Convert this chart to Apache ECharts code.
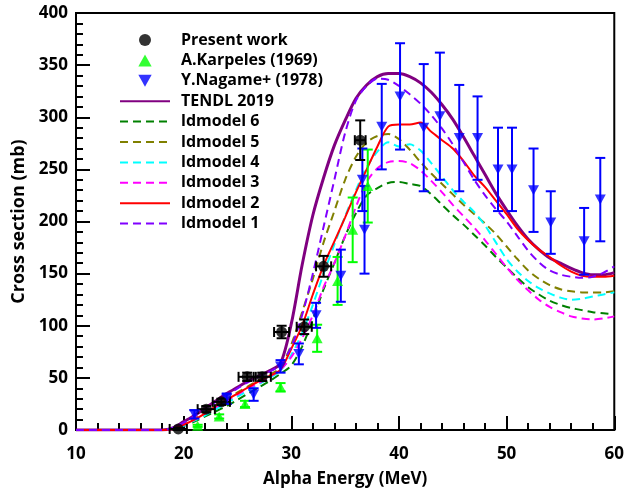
<!DOCTYPE html>
<html>
<head>
<meta charset="utf-8">
<script src="https://cdn.jsdelivr.net/npm/echarts@6/dist/echarts.min.js"></script>
<style>
  html, body { margin: 0; padding: 0; background: #fff; }
  #chart { width: 627px; height: 493px; }
</style>
</head>
<body>
<div id="chart"></div>
<script>
// experimental points
const presentE = [19.5, 22.1, 23.5, 25.9, 27.3, 29.1, 31.2, 33.0, 36.4];
const presentXS = [1, 20, 27, 51, 51, 94, 99, 157, 278];
const presentDE = [0.8, 0.8, 0.8, 0.8, 0.8, 0.7, 0.7, 0.7, 0.5];
const presentDXS = [1, 3, 3, 4, 4, 6, 7, 10, 19];

const karpE = [21.3, 23.3, 25.7, 29.0, 32.4, 34.3, 35.7, 37.1];
const karpXS = [4, 13, 25, 41, 88, 143, 192, 234];
const karpDXS = [1, 2, 3, 4, 13, 23, 31, 35];

const nagE = [21.0, 24.0, 26.5, 29.0, 30.7, 32.3, 34.6, 36.6, 36.8, 38.4, 40.1, 42.3, 43.8, 45.6, 47.3, 49.2, 50.5, 52.5, 54.1, 57.2, 58.7];
const nagXS = [15, 30, 34, 61, 73, 110, 148, 240, 192, 291, 320, 290, 301, 280, 280, 250, 250, 230, 199, 181, 221];
const nagDXS = [4, 5, 6, 6, 10, 12, 25, 30, 42, 41, 51, 61, 61, 51, 40, 40, 40, 40, 30, 32, 40];

// model curves (common energy grid)
const modelE = [10, 18, 19, 20, 21, 22, 23, 24, 25, 26, 27, 28, 29, 30, 31, 32, 33, 34, 35, 36, 37, 38, 39, 40,
  41, 42, 43, 44, 45, 46, 47, 48, 49, 50, 51, 52, 53, 54, 55, 56, 57, 58, 59, 60];
const tendl = [0, 0, 2, 8, 14, 21, 28, 35, 41, 47, 52, 57, 64, 102, 158, 206, 242, 273, 297, 318, 331, 339, 342, 342,
  339, 333, 324, 312, 298, 281, 263, 245, 227, 211, 196, 183, 173, 165, 160, 155, 151, 149, 149, 151];
const ld6 = [0, 0, 1, 4, 8, 13, 18, 23, 29, 35, 41, 47, 54, 62, 80, 106, 135, 160, 186, 208, 225, 232, 237, 238,
  236, 234, 226, 216, 206, 197, 187, 177, 166, 156, 146, 137, 130, 124, 120, 117, 115, 113, 112, 111];
const ld5 = [0, 0, 1, 6, 11, 17, 24, 30, 36, 42, 48, 53, 60, 82, 113, 145, 180, 210, 240, 262, 276, 282, 284, 279,
  269, 257, 246, 236, 226, 216, 207, 198, 188, 176, 164, 153, 145, 139, 135, 133, 132, 132, 132, 133];
const ld4 = [0, 0, 1, 4, 9, 14, 20, 26, 32, 38, 44, 50, 57, 72, 93, 120, 150, 178, 205, 230, 252, 267, 276, 272,
  274, 268, 256, 243, 230, 219, 209, 196, 180, 164, 152, 143, 136, 131, 127, 125, 126, 128, 130, 132];
const ld3 = [0, 0, 1, 5, 10, 16, 22, 28, 34, 40, 45, 51, 58, 70, 88, 110, 137, 160, 186, 214, 238, 251, 257, 258,
  256, 249, 239, 228, 216, 205, 194, 182, 169, 156, 144, 134, 125, 118, 113, 109, 107, 106, 107, 109];
const ld2 = [0, 0, 1, 5, 10, 16, 23, 29, 35, 41, 47, 52, 58, 78, 100, 130, 158, 181, 204, 228, 250, 272, 291, 293,
  293, 295, 286, 278, 270, 258, 244, 233, 220, 207, 193, 182, 173, 166, 158, 152, 148, 147, 147, 148];
const ld1 = [0, 0, 2, 7, 13, 20, 27, 33, 40, 46, 51, 56, 63, 80, 110, 150, 195, 240, 285, 316, 330, 337, 336, 330,
  322, 313, 302, 289, 274, 257, 240, 225, 212, 200, 186, 172, 161, 153, 149, 147, 146, 147, 151, 157];

const xTicks = [10, 20, 30, 40, 50, 60];
const yTicks = [0, 50, 100, 150, 200, 250, 300, 350, 400];

const font = 'Open Sans';
const upTri = 'path://M5,0 L10,9 L0,9 Z';
const downTri = 'path://M0,0 L10,0 L5,9 Z';

function pairs(xs, ys) {
  return xs.map((x, i) => [x, ys[i]]);
}

function errorBars(name, xs, ys, dxs, dys, color) {
  return {
    type: 'custom',
    name: name,
    silent: true,
    z: 4,
    renderItem: function (params, api) {
      const x = api.value(0), y = api.value(1), dx = api.value(2), dy = api.value(3);
      const lo = api.coord([x, y - dy]);
      const hi = api.coord([x, y + dy]);
      const style = { stroke: color, lineWidth: 2 };
      const cap = 5;
      const kids = [
        { type: 'line', shape: { x1: lo[0], y1: lo[1], x2: hi[0], y2: hi[1] }, style: style },
        { type: 'line', shape: { x1: lo[0] - cap, y1: lo[1], x2: lo[0] + cap, y2: lo[1] }, style: style },
        { type: 'line', shape: { x1: hi[0] - cap, y1: hi[1], x2: hi[0] + cap, y2: hi[1] }, style: style }
      ];
      if (dx > 0) {
        const l = api.coord([x - dx, y]);
        const r = api.coord([x + dx, y]);
        kids.push(
          { type: 'line', shape: { x1: l[0], y1: l[1], x2: r[0], y2: r[1] }, style: style },
          { type: 'line', shape: { x1: l[0], y1: l[1] - cap, x2: l[0], y2: l[1] + cap }, style: style },
          { type: 'line', shape: { x1: r[0], y1: r[1] - cap, x2: r[0], y2: r[1] + cap }, style: style }
        );
      }
      return { type: 'group', children: kids };
    },
    data: xs.map((x, i) => [x, ys[i], dxs ? dxs[i] : 0, dys[i]])
  };
}

function curve(name, ys, color, dashed, width) {
  return {
    type: 'line',
    name: name,
    data: pairs(modelE, ys),
    showSymbol: false,
    symbol: 'none',
    smooth: 0.3,
    z: 3,
    lineStyle: { color: color, width: width || 2, type: dashed ? [8, 5] : 'solid' },
    itemStyle: { color: color }
  };
}

// legend rows for the curves: line only, no marker
const noMark = { opacity: 0 };

const chart = echarts.init(document.getElementById('chart'));
chart.setOption({
  animation: false,
  backgroundColor: '#fff',
  grid: { left: 76, right: 10, top: 13, bottom: 62, show: true, borderColor: '#000', borderWidth: 2 },
  legend: {
    orient: 'vertical',
    left: 114,
    top: 27,
    itemWidth: 50,
    itemHeight: 12,
    itemGap: 4.4,
    textStyle: { fontFamily: font, fontWeight: 'bold', fontSize: 16, lineHeight: 12, color: '#000', padding: [0, 0, 0, 6] },
    data: [
      { name: 'Present work' },
      { name: 'A.Karpeles (1969)' },
      { name: 'Y.Nagame+ (1978)' },
      { name: 'TENDL 2019', itemStyle: noMark },
      { name: 'ldmodel 6', itemStyle: noMark },
      { name: 'ldmodel 5', itemStyle: noMark },
      { name: 'ldmodel 4', itemStyle: noMark },
      { name: 'ldmodel 3', itemStyle: noMark },
      { name: 'ldmodel 2', itemStyle: noMark },
      { name: 'ldmodel 1', itemStyle: noMark }
    ]
  },
  xAxis: {
    type: 'value',
    min: xTicks[0],
    max: xTicks[xTicks.length - 1],
    interval: 10,
    name: 'Alpha Energy (MeV)',
    nameLocation: 'middle',
    nameGap: 41,
    nameTextStyle: { fontFamily: font, fontWeight: 'bold', fontSize: 17, color: '#000' },
    axisLine: { lineStyle: { color: '#000', width: 2 } },
    axisTick: { inside: true, length: 14, lineStyle: { color: '#000', width: 2 } },
    minorTick: { show: true, splitNumber: 5, length: 7, lineStyle: { color: '#000', width: 2 } },
    axisLabel: { fontFamily: font, fontWeight: 'bold', fontSize: 17, color: '#000', margin: 16 },
    splitLine: { show: false }
  },
  yAxis: {
    type: 'value',
    min: yTicks[0],
    max: yTicks[yTicks.length - 1],
    interval: 50,
    name: 'Cross section (mb)',
    nameLocation: 'middle',
    nameGap: 46,
    nameTextStyle: { fontFamily: font, fontWeight: 'bold', fontSize: 18, color: '#000' },
    axisLine: { lineStyle: { color: '#000', width: 2 } },
    axisTick: { inside: true, length: 14, lineStyle: { color: '#000', width: 2 } },
    minorTick: { show: true, splitNumber: 5, length: 7, lineStyle: { color: '#000', width: 2 } },
    axisLabel: { fontFamily: font, fontWeight: 'bold', fontSize: 17, color: '#000', margin: 8 },
    splitLine: { show: false }
  },
  series: [
    curve('TENDL 2019', tendl, '#800080', false, 3),
    curve('ldmodel 6', ld6, '#008000', true),
    curve('ldmodel 5', ld5, '#808000', true),
    curve('ldmodel 4', ld4, '#00ffff', true),
    curve('ldmodel 3', ld3, '#ff00ff', true),
    curve('ldmodel 2', ld2, '#ff0000', false),
    curve('ldmodel 1', ld1, '#8000ff', true),
    errorBars('eb-karp', karpE, karpXS, null, karpDXS, '#00ff00'),
    errorBars('eb-nag', nagE, nagXS, null, nagDXS, '#0000ff'),
    errorBars('eb-present', presentE, presentXS, presentDE, presentDXS, '#000000'),
    {
      type: 'scatter', name: 'A.Karpeles (1969)', data: pairs(karpE, karpXS),
      symbol: upTri, symbolSize: [11, 10], itemStyle: { color: '#00ff00' }, z: 5
    },
    {
      type: 'scatter', name: 'Y.Nagame+ (1978)', data: pairs(nagE, nagXS),
      symbol: downTri, symbolSize: [11, 10], itemStyle: { color: '#0000ff' }, z: 5
    },
    {
      type: 'scatter', name: 'Present work', data: pairs(presentE, presentXS),
      symbol: 'circle', symbolSize: 11, itemStyle: { color: '#000000' }, z: 6
    }
  ]
});
</script>
</body>
</html>
